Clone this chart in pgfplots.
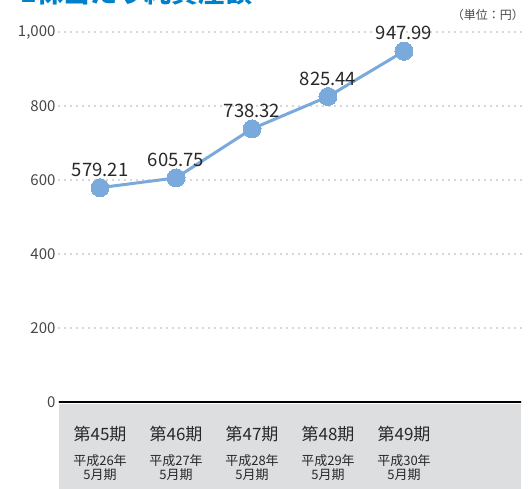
\documentclass[border=0pt]{standalone}
\usepackage{pgfplots}
\pgfplotsset{compat=1.18}
\usepackage{fontspec}
\setmainfont{Noto Sans CJK JP}
\definecolor{lineblue}{RGB}{122,170,220}
\definecolor{titleblue}{RGB}{0,128,200}
\definecolor{bandgray}{RGB}{221,222,224}
\definecolor{gridgray}{RGB}{175,175,175}
\definecolor{txt}{RGB}{40,40,40}
\definecolor{ticktxt}{RGB}{70,70,70}
\begin{document}
\begin{tikzpicture}
\useasboundingbox (0pt,0pt) rectangle (528pt,489pt);
% title (cut off at top, as in the reference)
\node[anchor=base west, inner sep=0pt, text=titleblue, font=\fontsize{27}{27}\selectfont\bfseries] at (20pt,486pt) {1株当たり純資産額};
% gray band
\fill[bandgray] (59pt,0pt) rectangle (521pt,85pt);
\begin{axis}[
  at={(59pt,87pt)}, anchor=south west,
  scale only axis, width=462pt, height=370pt,
  xmin=-0.54, xmax=5.54, ymin=0, ymax=1000,
  axis line style={draw=none},
  axis x line=none,
  ytick={0,200,400,600,800,1000},
  yticklabel style={font=\fontsize{15}{15}\selectfont, text=ticktxt, /pgf/number format/1000 sep={,}},
  /pgf/number format/assume math mode=true,
  major tick length=0pt,
  ymajorgrids,
  grid style={gridgray, line width=1.8pt, line cap=round, dash pattern=on 0pt off 6pt},
  clip=false,
]
\addplot[draw=black, line width=2.4pt, forget plot] coordinates {(-0.54,0) (5.54,0)};
\addplot[lineblue, line width=3pt, mark=*, mark size=9pt, mark options={fill=lineblue, draw=lineblue, line width=0pt},
  nodes near coords, point meta=explicit symbolic,
  every node near coord/.style={font=\fontsize{18.5}{18.5}\selectfont, text=txt, anchor=south, yshift=8pt}]
  coordinates {(0,579.21)[579.21] (1,605.75)[605.75] (2,738.32)[738.32] (3,825.44)[825.44] (4,947.99)[947.99]};
\end{axis}
% category labels
\foreach \i/\p/\y in {0/45/26,1/46/27,2/47/28,3/48/29,4/49/30}{
  \pgfmathsetmacro{\xx}{100+76*\i}
  \node[font=\fontsize{17}{17}\selectfont, text=txt] at (\xx pt,55pt) {第\p 期};
  \node[font=\fontsize{13}{13}\selectfont, text=txt] at (\xx pt,28pt) {平成\y 年};
  \node[font=\fontsize{13}{13}\selectfont, text=txt] at (\xx pt,14pt) {5月期};
}
\node[anchor=east, inner sep=0pt, font=\fontsize{12}{12}\selectfont, text=ticktxt] at (524pt,474pt) {（単位：円）};
\end{tikzpicture}
\end{document}
